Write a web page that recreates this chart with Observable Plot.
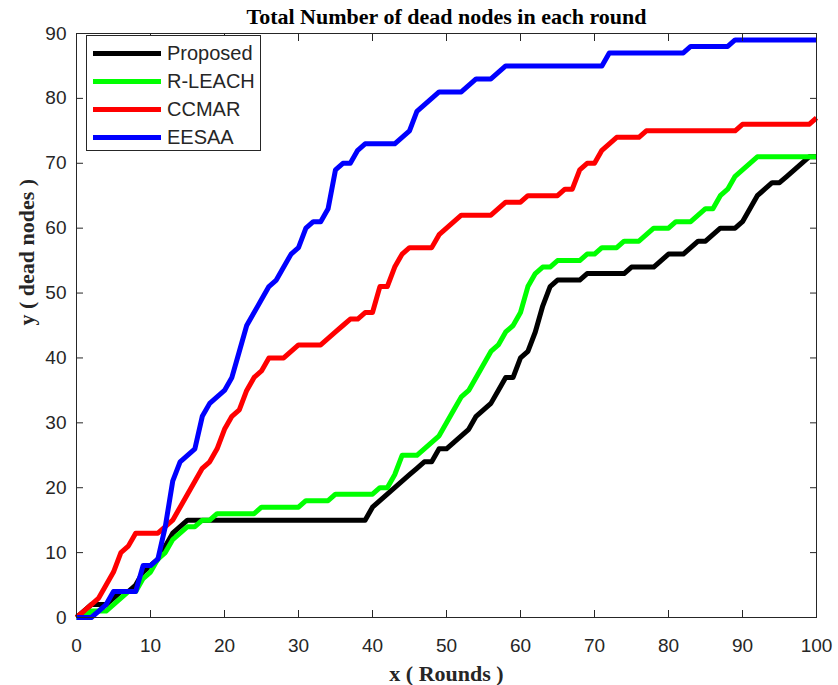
<!DOCTYPE html>
<html>
<head>
<meta charset="utf-8">
<script src="https://cdn.jsdelivr.net/npm/d3@7"></script>
<script src="https://cdn.jsdelivr.net/npm/@observablehq/plot@0.6"></script>
<style>
  body { margin: 0; background: #fff; }
  #wrap { position: relative; width: 838px; height: 685px; }
  #legend {
    position: absolute; left: 86px; top: 35px; width: 175px; height: 116px;
    border: 1px solid #262626; background: #fff; box-sizing: border-box;
    font-family: "Liberation Sans", Arial, sans-serif; font-size: 20px; color: #262626;
  }
  .row { position: absolute; left: 0; height: 28px; display: flex; align-items: center; }
  .sw { width: 68px; height: 5px; margin-left: 6px; margin-right: 6px; }
</style>
</head>
<body>
<div id="wrap"><div id="legend"></div></div>
<script>
const rounds = d3.range(0, 101);
const seriesNames = ["Proposed", "R-LEACH", "CCMAR", "EESAA"];
const seriesColors = ["#000000", "#00ff00", "#ff0000", "#0000ff"];
const xTicks = [0, 10, 20, 30, 40, 50, 60, 70, 80, 90, 100];
const yTicks = [0, 10, 20, 30, 40, 50, 60, 70, 80, 90];

const proposed = [
  0,1,2,2,2,3,4,4,5,7,
  8,9,11,13,14,15,15,15,15,15,
  15,15,15,15,15,15,15,15,15,15,
  15,15,15,15,15,15,15,15,15,15,
  17,18,19,20,21,22,23,24,24,26,
  26,27,28,29,31,32,33,35,37,37,
  40,41,44,48,51,52,52,52,52,53,
  53,53,53,53,53,54,54,54,54,55,
  56,56,56,57,58,58,59,60,60,60,
  61,63,65,66,67,67,68,69,70,71,
  71];
const rleach = [
  0,0,1,1,1,2,3,4,4,6,
  7,9,10,12,13,14,14,15,15,16,
  16,16,16,16,16,17,17,17,17,17,
  17,18,18,18,18,19,19,19,19,19,
  19,20,20,22,25,25,25,26,27,28,
  30,32,34,35,37,39,41,42,44,45,
  47,51,53,54,54,55,55,55,55,56,
  56,57,57,57,58,58,58,59,60,60,
  60,61,61,61,62,63,63,65,66,68,
  69,70,71,71,71,71,71,71,71,71,
  71];
const ccmar = [
  0,1,2,3,5,7,10,11,13,13,
  13,13,14,15,17,19,21,23,24,26,
  29,31,32,35,37,38,40,40,40,41,
  42,42,42,42,43,44,45,46,46,47,
  47,51,51,54,56,57,57,57,57,59,
  60,61,62,62,62,62,62,63,64,64,
  64,65,65,65,65,65,66,66,69,70,
  70,72,73,74,74,74,74,75,75,75,
  75,75,75,75,75,75,75,75,75,75,
  76,76,76,76,76,76,76,76,76,76,
  77];
const eesaa = [
  0,0,0,1,2,4,4,4,4,8,
  8,9,14,21,24,25,26,31,33,34,
  35,37,41,45,47,49,51,52,54,56,
  57,60,61,61,63,69,70,70,72,73,
  73,73,73,73,74,75,78,79,80,81,
  81,81,81,82,83,83,83,84,85,85,
  85,85,85,85,85,85,85,85,85,85,
  85,85,87,87,87,87,87,87,87,87,
  87,87,87,88,88,88,88,88,88,89,
  89,89,89,89,89,89,89,89,89,89,
  89];

const seriesValues = [proposed, rleach, ccmar, eesaa];
const rows = [];
seriesNames.forEach((name, k) => {
  seriesValues[k].forEach((v, i) => rows.push({ round: rounds[i], dead: v, series: name }));
});

const axisColor = "#262626";
const tickFont = "Liberation Sans, Arial, sans-serif";
const serif = "Liberation Serif, Times New Roman, serif";

const chart = Plot.plot({
  width: 838,
  height: 685,
  marginLeft: 76,
  marginRight: 22,
  marginTop: 33,
  marginBottom: 68,
  x: { domain: [0, 100] },
  y: { domain: [0, 90] },
  color: { domain: seriesNames, range: seriesColors },
  style: { fontFamily: tickFont, fontSize: "19px", color: axisColor, background: "#fff", overflow: "visible" },
  marks: [
    Plot.line(rows, { x: "round", y: "dead", z: "series", stroke: "series", strokeWidth: 5, strokeLinejoin: "round", strokeLinecap: "butt" }),
    Plot.frame({ stroke: axisColor, strokeWidth: 1 }),
    Plot.axisX({ anchor: "bottom", ticks: xTicks, tickSize: 0, tickPadding: 21, label: null, fill: axisColor }),
    Plot.axisY({ anchor: "left", ticks: yTicks, tickSize: 0, tickPadding: 10, label: null, fill: axisColor }),
    Plot.axisX({ anchor: "bottom", ticks: xTicks, tickSize: -7, tickFormat: () => "", label: null, stroke: axisColor }),
    Plot.axisX({ anchor: "top", ticks: xTicks, tickSize: -7, tickFormat: () => "", label: null, stroke: axisColor }),
    Plot.axisY({ anchor: "left", ticks: yTicks, tickSize: -7, tickFormat: () => "", label: null, stroke: axisColor }),
    Plot.axisY({ anchor: "right", ticks: yTicks, tickSize: -7, tickFormat: () => "", label: null, stroke: axisColor }),
    Plot.text(["Total Number of dead nodes in each round"], { frameAnchor: "top", lineAnchor: "middle", dy: -17, fontFamily: serif, fontWeight: "bold", fontSize: 22, fill: "#000" }),
    Plot.text(["x ( Rounds )"], { frameAnchor: "bottom", lineAnchor: "middle", dy: 56, fontFamily: serif, fontWeight: "bold", fontSize: 22, fill: axisColor }),
    Plot.text(["y ( dead nodes )"], { frameAnchor: "left", lineAnchor: "middle", dx: -50, rotate: -90, fontFamily: serif, fontWeight: "bold", fontSize: 22, fill: axisColor })
  ]
});

const wrap = document.getElementById("wrap");
wrap.insertBefore(chart, wrap.firstChild);

const legend = document.getElementById("legend");
seriesNames.forEach((name, k) => {
  const row = document.createElement("div");
  row.className = "row";
  row.style.top = (3 + k * 28.2) + "px";
  const sw = document.createElement("div");
  sw.className = "sw";
  sw.style.background = seriesColors[k];
  const label = document.createElement("span");
  label.textContent = name;
  row.appendChild(sw);
  row.appendChild(label);
  legend.appendChild(row);
});
</script>
</body>
</html>
